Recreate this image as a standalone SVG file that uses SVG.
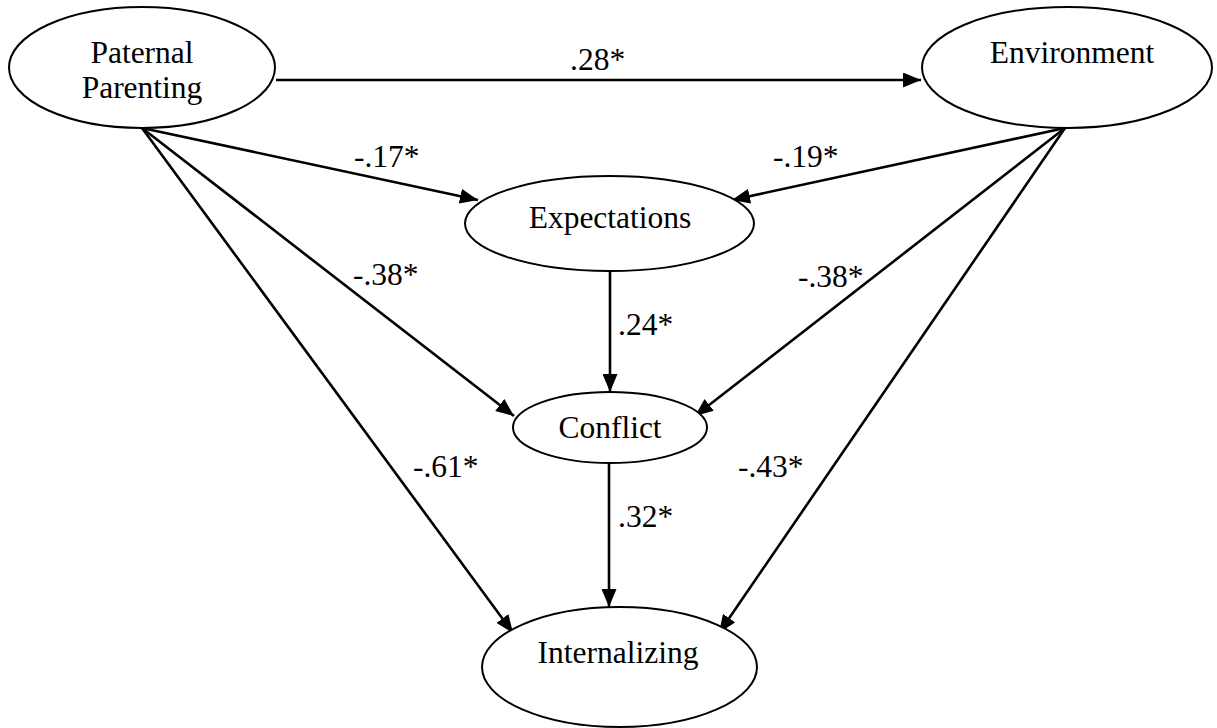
<svg xmlns="http://www.w3.org/2000/svg" width="1217" height="728" viewBox="0 0 1217 728">
<style>
.node ellipse{fill:#fff;stroke:#000;stroke-width:2}
.t{font-family:"Liberation Serif","Times New Roman",serif;font-size:31.5px;fill:#000}
.c{text-anchor:middle}
.edges line{stroke:#000;stroke-width:2.6}
</style>
<defs>
<marker id="ah" markerUnits="userSpaceOnUse" markerWidth="19" markerHeight="15" refX="18" refY="7.5" orient="auto">
<path d="M0,0 L18,7.5 L0,15 Z" fill="#000"/>
</marker>
</defs>
<rect width="1217" height="728" fill="#fff"/>
<g class="edges">
<line x1="276" y1="80" x2="921" y2="80" marker-end="url(#ah)"/>
<line x1="142" y1="128" x2="478" y2="200" marker-end="url(#ah)"/>
<line x1="1065" y1="128" x2="732" y2="200" marker-end="url(#ah)"/>
<line x1="142" y1="128" x2="514" y2="416" marker-end="url(#ah)"/>
<line x1="1065" y1="128" x2="695" y2="416" marker-end="url(#ah)"/>
<line x1="142" y1="128" x2="513" y2="633" marker-end="url(#ah)"/>
<line x1="1065" y1="128" x2="719" y2="633" marker-end="url(#ah)"/>
<line x1="610" y1="271" x2="610" y2="392" marker-end="url(#ah)"/>
<line x1="609" y1="463" x2="609" y2="607" marker-end="url(#ah)"/>
</g>
<g id="paternal" class="node">
<ellipse cx="142" cy="67.5" rx="133" ry="60.5"/>
<text class="t c" x="142" y="63">Paternal</text>
<text class="t c" x="142" y="98">Parenting</text>
</g>
<g id="environment" class="node">
<ellipse cx="1067" cy="67.5" rx="145" ry="60.5"/>
<text class="t c" x="1072" y="63">Environment</text>
</g>
<g id="expectations" class="node">
<ellipse cx="609.5" cy="223.5" rx="144.5" ry="47.5"/>
<text class="t c" x="610" y="228">Expectations</text>
</g>
<g id="conflict" class="node">
<ellipse cx="610" cy="427.5" rx="97" ry="35.5"/>
<text class="t c" x="610" y="438">Conflict</text>
</g>
<g id="internalizing" class="node">
<ellipse cx="619.5" cy="667" rx="137.5" ry="60"/>
<text class="t c" x="618" y="663">Internalizing</text>
</g>
<g id="labels">
<text class="t" x="570" y="70">.28*</text>
<text class="t" x="354" y="167">-.17*</text>
<text class="t" x="773" y="167">-.19*</text>
<text class="t" x="353" y="285">-.38*</text>
<text class="t" x="798" y="287">-.38*</text>
<text class="t" x="618" y="335">.24*</text>
<text class="t" x="413" y="477">-.61*</text>
<text class="t" x="618" y="527">.32*</text>
<text class="t" x="738" y="477">-.43*</text>
</g>
</svg>
